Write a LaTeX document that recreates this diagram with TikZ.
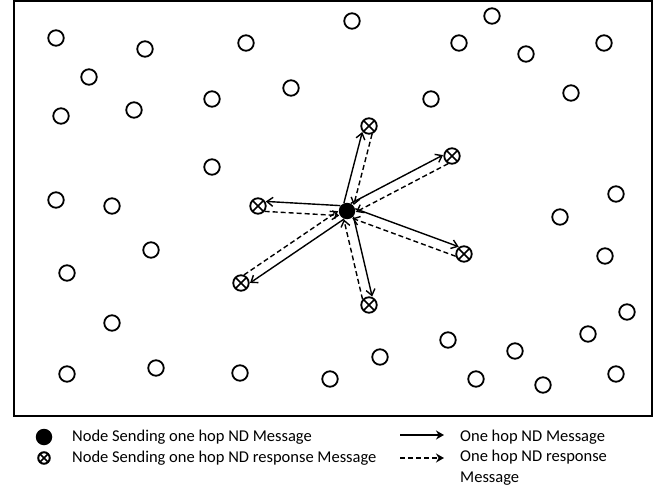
\documentclass[tikz,border=0pt]{standalone}
\usepackage{fontspec}
\setmainfont{Carlito}
\usetikzlibrary{arrows.meta,calc}

\tikzset{
  plain/.style={circle,draw,line width=1.8pt,minimum size=15.5pt,inner sep=0pt},
  responder/.style={plain,path picture={
      \draw[line width=1.6pt] (path picture bounding box.north west) -- (path picture bounding box.south east)
                              (path picture bounding box.north east) -- (path picture bounding box.south west);}},
  sender/.style={circle,fill,minimum size=16.5pt,inner sep=0pt},
  hop/.style={line width=1.4pt,-{Straight Barb[length=6pt,width=9pt,line width=1.4pt]},
              shorten <=7pt,shorten >=7.5pt},
  hopreply/.style={hop,dash pattern=on 5pt off 3pt},
  legendtext/.style={font=\fontsize{16.5}{21}\selectfont,inner sep=0pt,align=left},
  legendarrow/.style={line width=1.5pt,-{Stealth[length=8pt,width=9pt]}},
}

% one-hop message (solid) and its response (dashed), side by side
\newcommand\hoppair[3]{%
  \draw[hop] ($(src)!5pt!#2:(#1)$) -- ($(#1)!5pt!#3:(src)$);
  \draw[hopreply] ($(#1)!5pt!#2:(src)$) -- ($(src)!5pt!#3:(#1)$);
}

\begin{document}
\begin{tikzpicture}[x=1pt,y=-1pt]
\useasboundingbox (0,0) rectangle (667,492);

% network area
\draw[line width=2pt] (13.5,1.5) rectangle (652,415.5);

% idle nodes
\foreach \px/\py [count=\i] in {56/38,145/49,246/43,352/21,492/16,459/43,526/54,604/43,
    89/77,134/110,212/99,291/88,431/99,571/93,61/116,
    212/167,56/200,112/206,151/250,67/273,
    560/217,616/194,605/256,
    112/323,627/312,588/334,
    448/340,515/351,380/357,
    67/374,156/368,240/373,330/379,476/379,543/385,616/374}
  \node[plain] (p\i) at (\px,\py) {};

% sender and its one-hop neighbours
\node[sender] (src) at (347,211) {};
\node[responder] (n1) at (369,126) {};
\node[responder] (n2) at (452,156) {};
\node[responder] (n3) at (258,206) {};
\node[responder] (n4) at (464,254) {};
\node[responder] (n5) at (241,283) {};
\node[responder] (n6) at (369,305) {};

\hoppair{n1}{90}{-90}
\hoppair{n2}{90}{-90}
\hoppair{n3}{-90}{90}
\hoppair{n4}{90}{-90}
\hoppair{n5}{90}{-90}
\hoppair{n6}{90}{-90}

% legend
\node[sender] (ks) at (44,437) {};
\node[responder,minimum size=11.5pt,line width=2pt] (kr) at (44,458) {};
\node[legendtext,anchor=west] (ts) at (72,437) {Node Sending one hop ND Message};
\node[legendtext,anchor=west] (tr) at (72,458) {Node Sending one hop ND response Message};

\coordinate (a1) at (400,435);
\coordinate (a2) at (444,435);
\coordinate (b1) at (400,458);
\coordinate (b2) at (444,458);
\draw[legendarrow] (a1) -- (a2);
\draw[legendarrow,dash pattern=on 5pt off 3pt] (b1) -- (b2);
\node[legendtext,anchor=west] (ta) at (460,437) {One hop ND Message};
\node[legendtext,anchor=west] (tb) at (460,467.5) {One hop ND response\\Message};
\end{tikzpicture}
\end{document}
